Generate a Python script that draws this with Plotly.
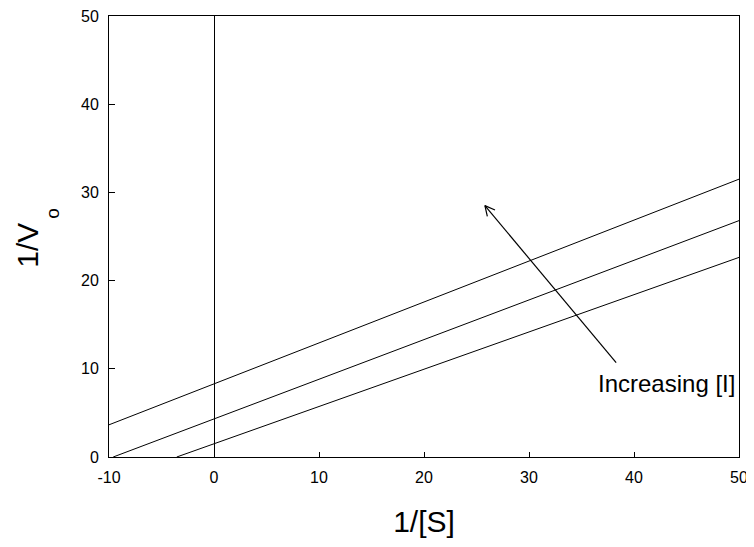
import numpy as np
import plotly.graph_objects as go

# Lineweaver-Burk lines (increasing inhibitor concentration)
line_names = ["[I] high", "[I] medium", "[I] none"]
line_x = [[-10, 50], [-9.6, 50], [-3.55, 50]]
line_y = [[3.65, 31.5], [0.0, 26.8], [0.0, 22.63]]

x_ticks = [-10, 0, 10, 20, 30, 40, 50]
x_tick_labels = ["-10", "0", "10", "20", "30", "40", "50"]
y_ticks = [0, 10, 20, 30, 40, 50]
y_tick_labels = ["0", "10", "20", "30", "40", "50"]

arrow_tail = [38.3, 10.7]
arrow_head = [25.8, 28.5]
label_text = "Increasing [I]"
label_pos = [49.8, 8.3]

# page body has an 8px margin, so the figure is offset by 8px
W, H = 746, 539
ML, MR, MT, MB = 101, 15, 8, 90
XR = [-10, 50]
YR = [0, 50]
FONT = "Liberation Sans, Arial, sans-serif"

fig = go.Figure()
for name, xs, ys in zip(line_names, line_x, line_y):
    fig.add_trace(go.Scatter(x=xs, y=ys, mode="lines", name=name,
                             line=dict(color="black", width=1), showlegend=False,
                             hoverinfo="skip"))

# arrow shaft + open V head computed in pixel space
px_per_x = (W - ML - MR) / (XR[1] - XR[0])
px_per_y = (H - MT - MB) / (YR[1] - YR[0])
dx = (arrow_head[0] - arrow_tail[0]) * px_per_x
dy = (arrow_head[1] - arrow_tail[1]) * px_per_y
ang = np.arctan2(dy, dx)
L = 11
hx, hy = [], []
for s in (1, -1):
    a = ang + np.pi + s * np.deg2rad(27)
    hx += [arrow_head[0] + L * np.cos(a) / px_per_x]
    hy += [arrow_head[1] + L * np.sin(a) / px_per_y]
fig.add_trace(go.Scatter(x=[arrow_tail[0], arrow_head[0]], y=[arrow_tail[1], arrow_head[1]],
                         mode="lines", line=dict(color="black", width=1.2),
                         showlegend=False, hoverinfo="skip"))
fig.add_trace(go.Scatter(x=[hx[0], arrow_head[0], hx[1]], y=[hy[0], arrow_head[1], hy[1]],
                         mode="lines", line=dict(color="black", width=1.2),
                         showlegend=False, hoverinfo="skip"))

fig.add_annotation(x=label_pos[0], y=label_pos[1], text=label_text, showarrow=False,
                   xanchor="right", yanchor="middle",
                   font=dict(family=FONT, size=24, color="black"))

# y-axis title "1/V" with subscript "o"
fig.add_annotation(xref="paper", yref="paper", x=0, y=0.479, xshift=-81,
                   text="1/V", showarrow=False, textangle=-90,
                   xanchor="center", yanchor="middle",
                   font=dict(family=FONT, size=30, color="black"))
fig.add_annotation(xref="paper", yref="paper", x=0, y=0.553, xshift=-56.5,
                   text="o", showarrow=False, textangle=-90,
                   xanchor="center", yanchor="middle",
                   font=dict(family=FONT, size=19, color="black"))

fig.update_layout(
    width=W, height=H,
    margin=dict(l=ML, r=MR, t=MT, b=MB, autoexpand=False),
    paper_bgcolor="white", plot_bgcolor="white",
    font=dict(family=FONT, color="black"),
    xaxis=dict(range=XR, tickvals=x_ticks, ticktext=x_tick_labels,
               ticks="inside", ticklen=5, tickcolor="black", ticklabelstandoff=6,
               ticklabeloverflow="allow",
               showline=True, mirror=True, linecolor="black", linewidth=1,
               showgrid=False, zeroline=True, zerolinecolor="black", zerolinewidth=1,
               automargin=False,
               tickfont=dict(size=16, family=FONT),
               title=dict(text="1/[S]", font=dict(size=30, family=FONT), standoff=25)),
    yaxis=dict(range=YR, tickvals=y_ticks, ticktext=y_tick_labels,
               ticks="inside", ticklen=6, tickcolor="black", ticklabelstandoff=6,
               ticklabeloverflow="allow",
               showline=True, mirror=True, linecolor="black", linewidth=1,
               showgrid=False, zeroline=False, automargin=False,
               tickfont=dict(size=16, family=FONT)),
)

fig.write_html("out.html")
